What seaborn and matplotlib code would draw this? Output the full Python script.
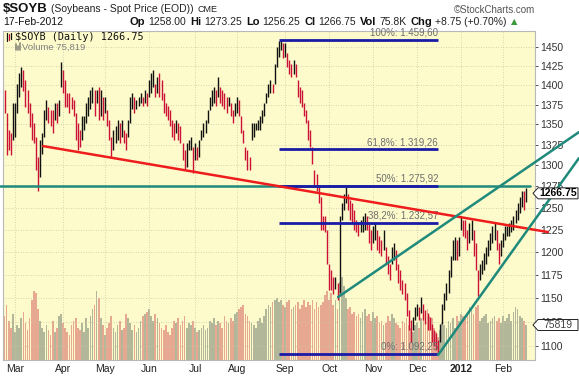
import numpy as np
import matplotlib
matplotlib.use("Agg")
import matplotlib.pyplot as plt
import seaborn as sns
from matplotlib.ticker import NullLocator, NullFormatter
from matplotlib.patches import Polygon

# ---------------- data ----------------
month_labels = ["Mar", "Apr", "May", "Jun", "Jul", "Aug", "Sep", "Oct", "Nov", "Dec", "2012", "Feb"]
month_pos = [5, 28, 48, 69, 91, 111, 134, 155, 176, 197, 218, 238]   # trading-day index of month start

lows = [
1364,1312,1318,1313,1331,1335,1364,1385,1397,1393,
1372,1364,1347,1331,1327,1294,1270,1286,1314,1335,
1356,1352,1348,1340,1356,1352,1360,1397,1390,1372,
1372,1364,1369,1360,1331,1318,1322,1331,1343,1352,
1360,1369,1377,1360,1377,1356,1360,1356,1364,1348,
1331,1309,1318,1327,1331,1327,1335,1327,1318,1335,
1352,1369,1364,1369,1373,1377,1373,1377,1373,1385,
1390,1397,1385,1390,1385,1381,1364,1360,1356,1348,
1335,1331,1340,1331,1327,1306,1294,1298,1318,1318,
1291,1306,1306,1310,1331,1335,1340,1352,1368,1373,
1377,1373,1385,1377,1373,1369,1364,1373,1360,1352,
1360,1364,1360,1340,1327,1306,1294,1294,1331,1335,
1343,1343,1343,1352,1360,1377,1385,1390,1390,1402,
1423,1437,1446,1435,1437,1423,1415,1411,1415,1411,
1385,1377,1372,1360,1352,1331,1322,1302,1274,1270,
1255,1225,1225,1222,1187,1158,1158,1154,1160,1148,
1155,1236,1247,1255,1247,1236,1232,1225,1222,1218,
1222,1222,1225,1225,1210,1202,1210,1213,1202,1199,
1195,1202,1187,1176,1169,1187,1191,1180,1166,1158,
1154,1148,1131,1116,1104,1116,1127,1131,1127,1134,
1127,1123,1116,1116,1104,1100,1096,1092.25,1104,1123,
1137,1148,1155,1172,1191,1191,1191,1195,1225,1218,
1215,1202,1210,1213,1195,1180,1152,1169,1176,1180,
1187,1195,1202,1210,1213,1202,1187,1195,1206,1213,
1218,1218,1222,1225,1232,1236,1244,1251,1247,1256.25]

highs = [
1394,1365,1343,1340,1377,1377,1402,1416,1423,1420,
1406,1394,1377,1364,1352,1335,1310,1331,1340,1368,
1381,1372,1368,1368,1377,1377,1381,1430,1420,1406,
1390,1390,1385,1381,1364,1352,1343,1360,1360,1377,
1385,1394,1397,1394,1394,1397,1394,1385,1385,1368,
1356,1335,1343,1348,1356,1352,1356,1343,1340,1356,
1385,1390,1385,1381,1385,1390,1385,1394,1390,1406,
1416,1420,1402,1411,1416,1406,1390,1377,1373,1368,
1356,1352,1356,1352,1348,1327,1318,1327,1331,1335,
1322,1327,1322,1331,1343,1352,1356,1368,1385,1394,
1397,1394,1410,1397,1394,1390,1385,1385,1377,1368,
1377,1385,1381,1360,1343,1322,1318,1310,1352,1352,
1352,1356,1360,1368,1377,1390,1402,1406,1402,1428,
1450,1458,1459.6,1455,1455,1442,1433,1428,1433,1428,
1406,1397,1394,1377,1368,1356,1343,1322,1294,1290,
1274,1262,1240,1240,1225,1187,1180,1172,1172,1166,
1240,1255,1266,1274,1266,1259,1255,1247,1236,1232,
1236,1240,1244,1240,1232,1225,1229,1232,1225,1218,
1213,1225,1205,1195,1187,1205,1210,1202,1187,1180,
1169,1166,1155,1137,1127,1130,1140,1144,1140,1151,
1144,1137,1134,1130,1123,1116,1113,1106,1123,1144,
1155,1166,1180,1195,1213,1217,1213,1217,1240,1236,
1236,1225,1232,1236,1225,1210,1180,1187,1191,1199,
1205,1213,1221,1229,1232,1225,1210,1213,1221,1229,
1229,1232,1236,1240,1247,1255,1262,1270,1270,1273.25]

volume_k = [
95,120,85,70,100,60,75,70,90,105,
80,65,90,130,150,145,110,85,70,60,
75,65,55,85,60,70,95,100,80,70,
60,55,75,85,90,70,65,80,60,90,
70,95,110,120,150,135,90,75,55,70,
80,95,70,60,75,85,65,70,100,90,
80,65,75,60,70,85,95,100,105,110,
95,85,100,90,80,70,65,75,60,55,
70,85,80,90,75,85,95,70,80,75,
85,70,60,65,70,75,65,70,85,80,
90,75,85,80,70,95,85,80,90,85,
100,105,110,115,120,100,95,85,80,75,
70,85,90,80,95,110,120,115,125,130,
135,125,130,120,115,125,130,110,115,120,
125,110,120,130,115,125,120,130,110,125,
115,120,125,140,150,130,145,120,130,110,
170,180,160,135,110,115,100,105,95,100,
90,105,110,95,100,85,105,90,95,80,
85,75,80,95,85,100,90,80,75,70,
85,80,90,75,70,60,75,80,70,90,
105,100,110,95,90,70,60,50,65,80,
75,70,85,80,90,70,95,85,100,95,
90,105,115,110,100,115,120,85,90,95,
100,80,85,90,95,85,90,80,95,85,
90,100,85,105,115,110,95,90,85,75.819]

y_ticks = [1100, 1125, 1150, 1175, 1200, 1225, 1250, 1275, 1300, 1325, 1350, 1375, 1400, 1425, 1450]

fib_levels = [1459.60, 1319.26, 1275.92, 1232.57, 1092.25]
fib_labels = ["100%: 1.459,60", "61,8%: 1.319,26", "50%: 1.275,92", "38,2%: 1.232,57", "0%: 1.092,25"]
fib_span = [131.1, 207.0]

red_trend_x = [18.4, 259.5]
red_trend_y = [1323.3, 1222.2]
teal_horiz_x = [-2.15, 250.9]
teal_horiz_y = [1275.92, 1275.92]
teal_upper_x = [159.3, 274.3]
teal_upper_y = [1151.0, 1340.5]
teal_lower_x = [207.0, 274.3]
teal_lower_y = [1090.9, 1308.7]

last_price = 1266.75
last_volume = 75819

# ---------------- figure ----------------
sns.set_style("white")
plt.rcParams['font.family'] = ['Liberation Sans', 'DejaVu Sans']

W, H = 579, 376
fig = plt.figure(figsize=(W / 100, H / 100), dpi=100)
fig.patch.set_facecolor('white')


def frac_rect(x0, y0, x1, y1):
    return [x0 / W, 1 - y1 / H, (x1 - x0) / W, (y1 - y0) / H]


def px(x, y):
    return (x / W, 1 - y / H)


rect = frac_rect(3, 31, 535, 360)
XL = (-0.72, 253.3)

idx = np.arange(len(highs))
hi = np.array(highs, float)
lo = np.array(lows, float)
mid = (hi + lo) / 2
up = np.r_[False, mid[1:] > mid[:-1]]
dirs = np.where(up, "up", "down")

# volume axes (bottom layer)
axv = fig.add_axes(rect)
axv.set_facecolor('#fdfbcb')
sns.barplot(x=idx, y=np.array(volume_k), hue=dirs, palette={"up": "#b3b79a", "down": "#e7a892"},
            dodge=False, legend=False, width=0.8, saturation=1, linewidth=0, errorbar=None, ax=axv)
axv.set_xlim(*XL)
axv.set_ylim(0, 712.7)
axv.set_xticks([])
axv.set_yticks([])
axv.set_xlabel("")
axv.set_ylabel("")
for s in axv.spines.values():
    s.set_visible(False)

# price axes
ax = fig.add_axes(rect)
ax.set_facecolor('none')
ax.set_yscale('log')
ax.set_xlim(*XL)
ax.set_ylim(1085.9, 1471.8)
ax.yaxis.set_minor_locator(NullLocator())
ax.yaxis.set_minor_formatter(NullFormatter())
ax.set_yticks(y_ticks)
ax.set_yticklabels([str(v) for v in y_ticks])
ax.yaxis.tick_right()
ax.tick_params(axis='y', length=2, pad=2, labelsize=7.5, colors='#333333', width=0.6)
ax.set_xticks(month_pos)
ax.set_xticklabels(month_labels)
ax.tick_params(axis='x', length=0, pad=3, labelsize=7.5, colors='#222222')
for t in ax.get_xticklabels():
    if t.get_text() == "2012":
        t.set_fontweight('bold')
ax.grid(True, ls=(0, (1, 2)), color='#c9c7a8', lw=0.6)
for s in ax.spines.values():
    s.set_color('#b8b8b8')
    s.set_linewidth(0.8)

# candles
cols = np.where(up, '#111111', '#cc1136')
ax.vlines(idx, lo, hi, colors=cols, lw=1.0, zorder=3)

# trend lines
ax.plot(teal_horiz_x, teal_horiz_y, color='#1f8a7c', lw=1.8, clip_on=False, zorder=4)
ax.hlines(fib_levels, fib_span[0], fib_span[1], color='#1a1aa6', lw=2.0, zorder=5)
for lv, lb in zip(fib_levels, fib_labels):
    ax.annotate(lb, (fib_span[1], lv), xytext=(0, 1.5), textcoords='offset points',
                ha='right', va='bottom', fontsize=7, color='#6e6e6e', zorder=6)
ax.plot(red_trend_x, red_trend_y, color='#ee1c1c', lw=1.8, clip_on=False, zorder=6)
ax.plot(teal_upper_x, teal_upper_y, color='#1f8a7c', lw=1.8, clip_on=False, zorder=6)
ax.plot(teal_lower_x, teal_lower_y, color='#1f8a7c', lw=1.8, clip_on=False, zorder=6)

# ---------------- header texts ----------------
renderer = fig.canvas.get_renderer()


def seq_text(x, y, pieces):
    for s, props in pieces:
        t = fig.text(*px(x, y), s, va='center', ha='left', **props)
        bb = t.get_window_extent(renderer=renderer)
        x += bb.width
    return x


x = seq_text(3, 9, [("$SOYB", dict(fontsize=9.5, fontweight='bold', color='#111111'))])
x = seq_text(x + 3, 9.5, [("(Soybeans - Spot Price (EOD))", dict(fontsize=7.5, color='#222222'))])
seq_text(x + 4, 9.5, [("CME", dict(fontsize=6.5, color='#222222'))])
fig.text(*px(535, 10), "\u00a9StockCharts.com", ha='right', va='center', fontsize=7, color='#555555')
fig.text(*px(3, 22), "17-Feb-2012", ha='left', va='center', fontsize=7.5, color='#111111')
B = dict(fontsize=8, fontweight='bold', color='#111111')
N = dict(fontsize=7.5, color='#222222')
pieces = [("Op", B), ("1258.00", N), ("Hi", B), ("1273.25", N), ("Lo", B), ("1256.25", N),
          ("Cl", B), ("1266.75", N), ("Vol", B), ("75.8K", N), ("Chg", B), ("+8.75 (+0.70%)", N)]
x = 130
for i, (s, p) in enumerate(pieces):
    x = seq_text(x, 22, [(s, p)])
    x += 3 if i % 2 == 0 else 4
fig.text(*px(x, 21.5), "\u25b2", ha='left', va='center', fontsize=6, color='#3a9a3a',
         family=['DejaVu Sans'])

# legend inside plot
fig.text(*px(15, 37), "$SOYB (Daily) 1266.75", ha='left', va='center', fontsize=7.3,
         family=['DejaVu Sans Mono'], color='#111111')
fig.text(*px(22, 47), "Volume 75,819", ha='left', va='center', fontsize=6.8, color='#808080')
# small legend icons
for xx, y0, y1, c in [(6.5, 33, 41, '#111111'), (8.5, 34, 40, '#cc1136'), (10.5, 33, 39, '#111111')]:
    fig.lines.append(plt.Line2D([xx / W, xx / W], [1 - y0 / H, 1 - y1 / H], color=c, lw=0.9,
                                transform=fig.transFigure))
for xx, y0 in [(15.5, 44), (17.5, 46), (19.5, 43)]:
    fig.lines.append(plt.Line2D([xx / W, xx / W], [1 - y0 / H, 1 - 50 / H], color='#8a8a7a', lw=1.2,
                                transform=fig.transFigure))


# value tags on the right axis
def tag(y, text, weight, color):
    pts = [(533, y), (538, y - 5.5), (578, y - 5.5), (578, y + 5.5), (538, y + 5.5)]
    poly = Polygon([px(a, b) for a, b in pts], closed=True, transform=fig.transFigure,
                   facecolor='white', edgecolor='#222222', lw=0.7, zorder=10)
    fig.patches.append(poly)
    fig.text(*px(558, y), text, ha='center', va='center', fontsize=7.5, fontweight=weight,
             color=color, zorder=11)


price_px = 360 - np.log(last_price / 1085.9) / np.log(1471.8 / 1085.9) * 329
vol_px = 360 - last_volume / 1000 / 712.7 * 329
tag(price_px, "1266.75", 'bold', '#000000')
tag(vol_px, "75819", 'normal', '#444444')

fig.savefig("out.png", dpi=100, facecolor='white')
